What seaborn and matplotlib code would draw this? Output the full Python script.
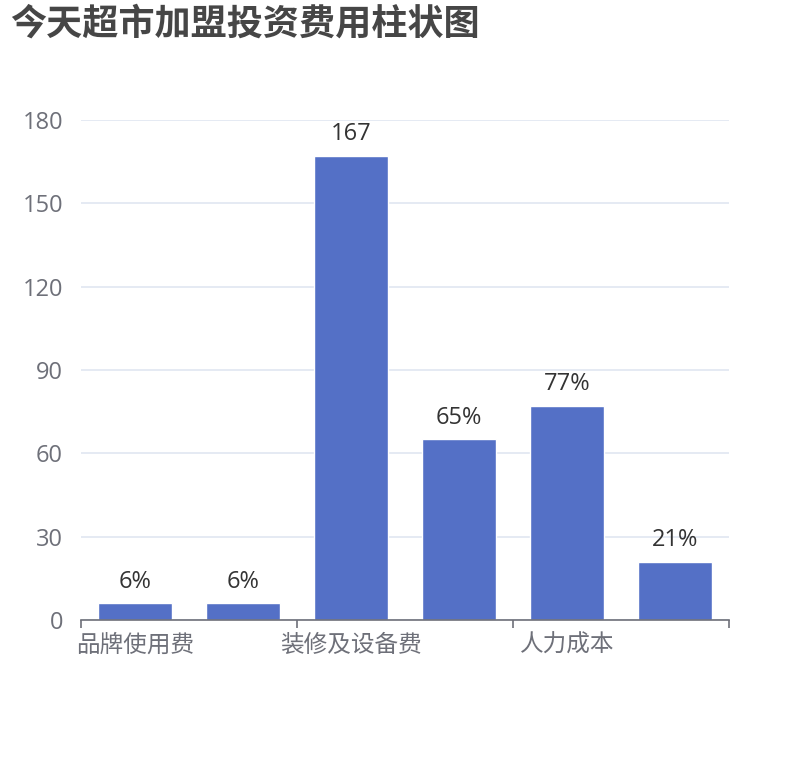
import pandas as pd
import seaborn as sns
import matplotlib.pyplot as plt

# data
categories = ['品牌使用费', '品牌保证金', '装修及设备费', '首批进货款', '人力成本', '其他费用']
values = [6, 6, 167, 65, 77, 21]
value_labels = ['6%', '6%', '167', '65%', '77%', '21%']
y_ticks = [0, 30, 60, 90, 120, 150, 180]

df = pd.DataFrame({'cat': categories, 'val': values})

sns.set_theme(style='white')
# latin digits from Open Sans, CJK falls through to Noto
plt.rcParams['font.family'] = ['Open Sans', 'Noto Sans CJK SC', 'DejaVu Sans']

fig = plt.figure(figsize=(8.1, 7.6), dpi=100)
ax = fig.add_axes([0.1, 0.1842, 0.8, 0.6579])

sns.barplot(data=df, x='cat', y='val', color='#5470c6', saturation=1,
            width=0.69, ax=ax, zorder=3)

# value labels above bars
ax.bar_label(ax.containers[0], labels=value_labels, padding=7,
             fontsize=17, color='#333333')

ax.set_xlim(-0.5, len(categories) - 0.5)
ax.set_ylim(0, 180)
ax.set_yticks(y_ticks)
ax.yaxis.grid(True, color='#E0E6F1', linewidth=1.2, zorder=0)
ax.tick_params(axis='y', length=0, pad=13, labelsize=17, labelcolor='#6E7079')

# ticks at every other category boundary, labels on every other category
n = len(categories)
ax.set_xticks([i - 0.5 for i in range(0, n + 1, 2)])
ax.set_xticklabels([])
ax.tick_params(axis='x', which='major', length=6, width=1.2, color='#6E7079',
               direction='out', bottom=True)
ax.set_xticks(list(range(0, n, 2)), minor=True)
ax.set_xticklabels([categories[i] for i in range(0, n, 2)], minor=True)
ax.tick_params(axis='x', which='minor', length=0, pad=10, labelsize=17,
               labelcolor='#6E7079', bottom=True)

for side in ['top', 'right', 'left']:
    ax.spines[side].set_visible(False)
ax.spines['bottom'].set_color('#6E7079')
ax.spines['bottom'].set_linewidth(1.2)
ax.spines['bottom'].set_zorder(4)

ax.set_xlabel('')
ax.set_ylabel('')

fig.text(0.0123, 0.99, '今天超市加盟投资费用柱状图', fontsize=26, fontweight='bold',
         color='#464646', ha='left', va='top')

fig.savefig('out.png', dpi=100)
